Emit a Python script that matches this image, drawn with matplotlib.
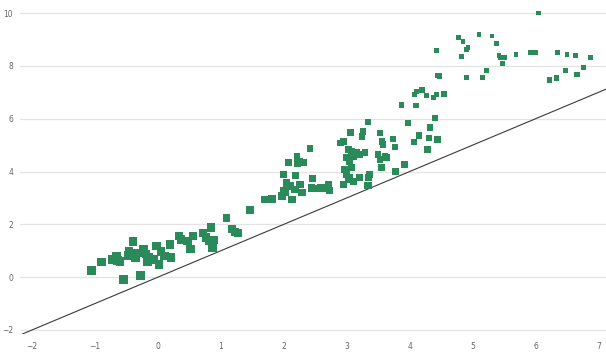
import numpy as np
import matplotlib.pyplot as plt


# observed (x, y) pairs
x_vals = [
    -1.06, -0.90, -0.72, -0.64, -0.66, -0.54, -0.47, -0.39, -0.46, -0.36,
    -0.27, -0.23, -0.19, -0.14, -0.06, -0.02, 0.02, 0.11, 0.19, 0.21,
    0.33, 0.37, 0.47, 0.52, 0.56, 0.72, 0.76, 0.81, 0.89, 0.87,
    0.84, 1.09, 1.18, 1.22, 1.27, 1.46, 1.70, 1.81, -0.60, -0.32,
    -0.16, 0.05,
    1.97, 2.00, 2.03, 2.10, 2.13, 2.18, 2.26, 2.29, 2.00, 2.04,
    2.18, 2.08, 2.21, 2.26, 2.31, 2.22, 2.42, 2.46, 2.44, 2.53,
    2.58, 2.69, 2.71, 2.73,
    2.90, 2.95, 3.06, 3.24, 3.26, 3.34, 3.03, 3.08, 3.16, 3.21,
    3.29, 3.11, 3.00, 3.05, 2.97, 3.08, 3.00, 3.05, 3.03, 3.11,
    2.95, 3.21, 3.34, 3.37, 3.34, 3.53, 3.56, 3.58, 3.50, 3.53,
    3.61, 3.63, 3.56, 3.74, 3.77, 3.78, 3.92, 4.07, 4.15, 4.31,
    4.32, 4.41, 4.44, 4.28, 3.98, 3.87, 4.10, 4.08, 4.11, 4.20,
    4.27, 4.38, 4.43, 4.55, 4.45, 4.43, 4.78, 4.85, 4.93, 4.90,
    5.10, 5.31, 5.38, 5.42, 5.45, 5.51, 5.47, 5.69, 5.92, 6.00,
    6.35, 6.50, 6.63, 6.88, 4.83, 4.90, 5.16, 5.22, 6.22, 6.33,
    6.47, 6.66, 6.76, 6.05, 4.47,
]
y_vals = [
    0.26, 0.57, 0.68, 0.62, 0.79, -0.08, 0.83, 1.35, 0.99, 0.72,
    0.08, 1.06, 0.87, 0.77, 0.68, 1.19, 0.49, 0.80, 1.23, 0.74,
    1.55, 1.43, 1.37, 1.06, 1.57, 1.66, 1.50, 1.37, 1.41, 1.12,
    1.88, 2.23, 1.81, 1.71, 1.66, 2.54, 2.94, 2.96, 0.60, 0.91,
    0.60, 0.98,
    3.07, 3.26, 3.20, 3.45, 2.94, 3.32, 3.51, 3.20, 3.89, 3.57,
    3.85, 4.33, 4.58, 4.39, 4.33, 4.30, 4.87, 3.74, 3.38, 3.35,
    3.38, 3.38, 3.51, 3.28,
    5.08, 5.14, 5.48, 5.33, 5.52, 5.88, 4.83, 4.77, 4.71, 4.64,
    4.71, 4.58, 4.52, 4.39, 4.08, 4.14, 3.89, 3.76, 3.70, 3.63,
    3.51, 3.76, 3.76, 3.89, 3.48, 5.46, 5.14, 5.02, 4.64, 4.45,
    4.58, 4.52, 4.14, 5.23, 4.93, 4.01, 4.26, 5.12, 5.37, 5.27,
    5.67, 6.04, 5.21, 4.83, 5.84, 6.53, 6.50, 6.91, 7.03, 7.09,
    6.88, 6.80, 6.91, 6.94, 7.63, 8.58, 9.08, 8.92, 8.69, 8.63,
    9.18, 9.14, 8.84, 8.38, 8.33, 8.33, 8.10, 8.42, 8.52, 8.52,
    8.52, 8.43, 8.38, 8.33, 8.35, 7.56, 7.56, 7.84, 7.47, 7.54,
    7.81, 7.66, 7.94, 10.01, 7.62,
]

y_ticks = [-2, 0, 2, 4, 6, 8, 10]
x_ticks = [-2, -1, 0, 1, 2, 3, 4, 5, 6, 7]

x = np.array(x_vals)
y = np.array(y_vals)

fig = plt.figure(figsize=(6.06, 3.53), dpi=100)
ax = fig.add_axes([0.033, 0.054, 0.967, 0.935])

# squares shrink as the value rises
side_px = np.clip(9.0 - 0.5 * y, 4.6, 9.0)
sizes = (side_px * 0.72) ** 2
ax.scatter(x, y, s=sizes, marker='s', color='#2b8a5a', linewidths=0, zorder=3)

# reference line y = x
ax.axline((0, 0), slope=1, color='#3a3a3a', linewidth=0.8, zorder=2)

ax.set_xlim(-2.19, 7.12)
ax.set_ylim(-2.15, 10.35)
ax.set_xticks(x_ticks)
ax.set_yticks(y_ticks)
ax.grid(axis='y', color='#e4e4e4', linewidth=0.9)
ax.set_axisbelow(True)
for s in ax.spines.values():
    s.set_visible(False)
ax.tick_params(length=0, labelsize=5.5, colors='#666666', pad=6)
ax.tick_params(axis='y', pad=5)

fig.savefig('out.png', dpi=100)
